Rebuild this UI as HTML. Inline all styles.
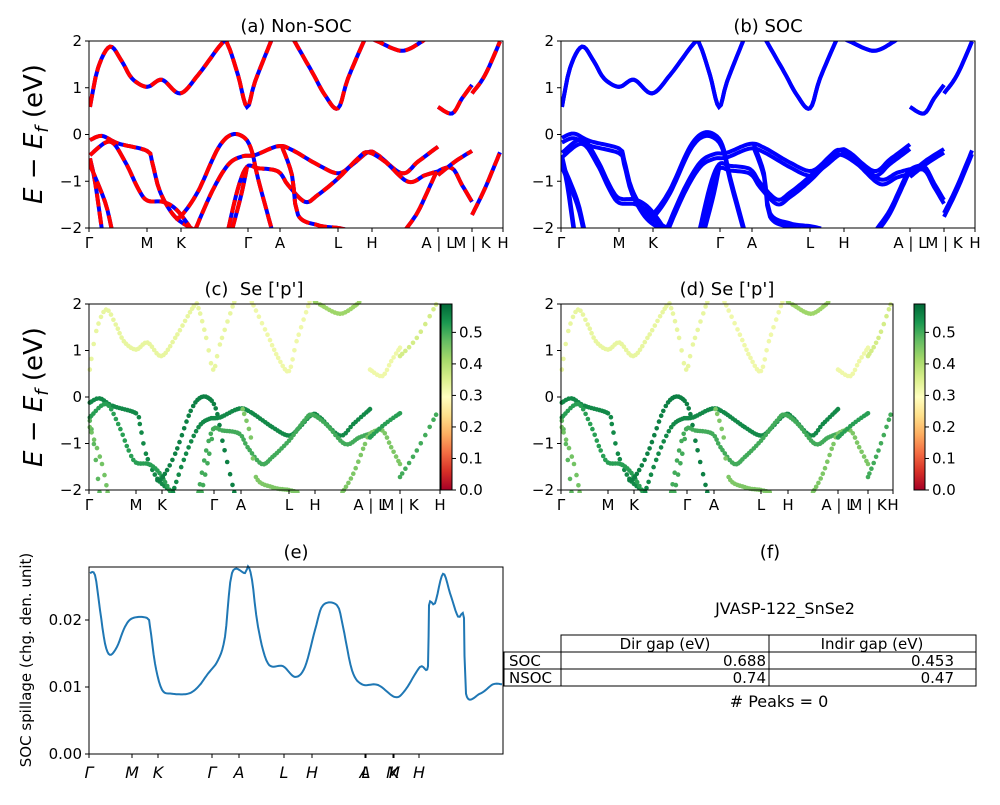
<!DOCTYPE html>
<html><head><meta charset="utf-8"><style>
body{margin:0;background:#fff;font-family:"Liberation Sans","DejaVu Sans",sans-serif}
svg text{font-family:"DejaVu Sans","Liberation Sans",sans-serif}
</style></head><body>
<svg id="fig" width="1000" height="800" viewBox="0 0 1000 800" xmlns="http://www.w3.org/2000/svg">
<defs>
<linearGradient id="rdylgn" x1="0" y1="1" x2="0" y2="0">
<stop offset="0" stop-color="#a50026"/><stop offset="0.1" stop-color="#d73027"/><stop offset="0.2" stop-color="#f46d43"/><stop offset="0.3" stop-color="#fdae61"/><stop offset="0.4" stop-color="#fee08b"/><stop offset="0.5" stop-color="#ffffbf"/><stop offset="0.6" stop-color="#d9ef8b"/><stop offset="0.7" stop-color="#a6d96a"/><stop offset="0.8" stop-color="#66bd63"/><stop offset="0.9" stop-color="#1a9850"/><stop offset="1" stop-color="#006837"/>
</linearGradient>
<clipPath id="clipA"><rect x="89" y="41" width="414" height="187"/></clipPath>
<clipPath id="clipB"><rect x="561" y="41" width="414" height="187"/></clipPath>
<clipPath id="clipC"><rect x="86" y="301" width="357" height="192"/></clipPath>
<clipPath id="clipD"><rect x="558" y="301" width="338" height="192"/></clipPath>
</defs>
</svg>
<script>
// ---- data ----
const tickK = [0,58,92,159,191,249,283,349,383,414];
const tickLabels = ["Γ","M","K","Γ","A","L","H","A | L","M | K","H"];
const bands = [
 [[1,0.59],[9,1.42],[21,1.88],[33,1.56],[43,1.20],[58,1.02],[73,1.17],[91,0.88],[109,1.27],[133,1.95],[139,1.91],[149,1.27],[158,0.59],[166,1.13],[183,2.05]],
 [[204,2.05],[223,1.34],[236,0.84],[249,0.56],[259,1.20],[276,2.05]],
 [[283,2.05],[289,1.99],[313,1.79],[333,1.99],[336,2.05]],
 [[349,0.59],[363,0.45],[373,0.77],[383,1.06]],
 [[383,0.88],[396,1.27],[411,1.99]],
 [[1,-0.12],[13,-0.03],[29,-0.19],[58,-0.35],[63,-0.58],[71,-1.22],[86,-1.76],[106,-2.05]],
 [[1,-0.44],[21,-0.15],[36,-0.58],[49,-1.15],[58,-1.41],[74,-1.44],[86,-1.58],[96,-1.83],[103,-2.05]],
 [[86,-1.79],[93,-1.72],[109,-1.22],[129,-0.30],[143,0.00],[156,-0.08],[163,-0.37],[169,-0.94],[183,-2.05]],
 [[106,-2.05],[123,-1.22],[139,-0.65],[153,-0.47],[166,-0.44],[189,-0.25],[203,-0.33],[229,-0.65],[249,-0.83],[263,-0.65],[279,-0.38],[289,-0.44],[313,-0.83],[329,-0.58],[349,-0.26]],
 [[139,-2.05],[149,-1.15],[158,-0.69],[169,-0.72],[189,-0.79],[199,-1.08],[216,-1.44],[229,-1.29],[249,-0.94],[269,-0.51],[279,-0.38],[296,-0.58],[319,-1.01],[336,-0.87],[349,-0.79]],
 [[193,-0.26],[203,-0.87],[209,-1.72],[229,-1.94],[249,-2.0],[260,-2.05]],
 [[1,-0.51],[6,-1.01],[13,-2.05]],
 [[1,-0.65],[16,-1.44],[23,-2.05]],
 [[143,-2.05],[153,-1.22],[158,-0.69]],
 [[316,-2.05],[329,-1.65],[343,-1.01],[349,-0.79],[363,-0.72],[373,-1.08],[383,-1.44]],
 [[349,-0.87],[366,-0.58],[383,-0.35]],
 [[383,-1.72],[396,-1.15],[411,-0.38]]
];
const bandWeights = [0.33,0.32,0.42,0.32,0.36,0.55,0.52,0.56,0.55,0.50,0.45,0.48,0.46,0.50,0.45,0.52,0.50];
const socSplit = [0,0,0,0,0,0.05,0.05,0.04,0.05,0.05,0.04,0.05,0.05,0.04,0.04,0.04,0.04];
const energyTicks = [2,1,0,-1,-2];
const cbarTicks = [0.0,0.1,0.2,0.3,0.4,0.5];
const spillK = [1,6,11,16,21,28,36,44,58,61,66,73,83,99,109,119,129,136,143,156,159,163,169,179,194,206,216,226,234,248,254,263,273,289,306,316,331,339,340,346,354,361,369,375,377,391,404,413];
const spillV = [0.0270,0.0267,0.0215,0.0165,0.0148,0.0160,0.0190,0.0203,0.0203,0.0190,0.0135,0.0096,0.0090,0.0090,0.0100,0.0120,0.0140,0.0175,0.0270,0.0270,0.0280,0.0260,0.0190,0.0135,0.0131,0.0115,0.0130,0.0185,0.0222,0.0222,0.0190,0.0125,0.0104,0.0103,0.0085,0.0095,0.0130,0.0131,0.0222,0.0225,0.0269,0.0240,0.0205,0.0203,0.0090,0.0090,0.0104,0.0104];
const spillTicksPx = [89,132,158,212,239,284,312,365,366,393,394,419];
const spillTickLabels = ["Γ","M","K","Γ","A","L","H","A","L","M","K","H"];
const spillYTicks = [0.00,0.01,0.02];
const tableRows = [["SOC","0.688","0.453"],["NSOC","0.74","0.47"]];

// ---- helpers ----
const svg = document.getElementById('fig');
const NS = 'http://www.w3.org/2000/svg';
function mk(tag, attrs, parent){const e=document.createElementNS(NS,tag);for(const k in attrs)e.setAttribute(k,attrs[k]);(parent||svg).appendChild(e);return e;}
function txt(x,y,s,size,anchor,parent,extra){const t=mk('text',Object.assign({x:x,y:y,'font-size':size,'text-anchor':anchor||'middle',fill:'#000'},extra||{}),parent);t.textContent=s;return t;}
function kMap(ticksPx){return function(k){for(let i=0;i<tickK.length-1;i++){if(k<=tickK[i+1]||i===tickK.length-2){return ticksPx[i]+(k-tickK[i])/(tickK[i+1]-tickK[i])*(ticksPx[i+1]-ticksPx[i]);}}};}
function eMap(top,bot){return function(E){return top+(2-E)/4*(bot-top);};}
function sampleBand(b,step){const pts=[];for(let i=0;i<b.length-1;i++){const p0=b[Math.max(0,i-1)],p1=b[i],p2=b[i+1],p3=b[Math.min(b.length-1,i+2)];const n=Math.max(2,Math.ceil((p2[0]-p1[0])/step));for(let j=0;j<n;j++){const t=j/n,t2=t*t,t3=t2*t;const f=(a,b2,c,d)=>0.5*((2*b2)+(-a+c)*t+(2*a-5*b2+4*c-d)*t2+(-a+3*b2-3*c+d)*t3);pts.push([f(p0[0],p1[0],p2[0],p3[0]),f(p0[1],p1[1],p2[1],p3[1])]);}}pts.push(b[b.length-1]);return pts;}
const cstops=[[165,0,38],[215,48,39],[244,109,67],[253,174,97],[254,224,139],[255,255,191],[217,239,139],[166,217,106],[102,189,99],[26,152,80],[0,104,55]];
function cmap(v){let t=Math.max(0,Math.min(1,v/0.59))*10;const i=Math.min(9,Math.floor(t)),f=t-i;const a=cstops[i],b=cstops[i+1];return 'rgb('+a.map((c,j)=>Math.round(c+(b[j]-c)*f)).join(',')+')';}

function axesFrame(x0,y0,x1,y1,name){const r=mk('rect',{x:x0,y:y0,width:x1-x0,height:y1-y0,fill:'none',stroke:'#000','stroke-width':1});}
function energyAxis(x0,top,bot,name){const g=mk('g',{});const em=eMap(top,bot);energyTicks.forEach(v=>{const y=em(v);mk('line',{x1:x0-4,x2:x0,y1:y,y2:y,stroke:'#000'},g);txt(x0-7,y+5,String(v).replace('-','−'),15,'end',g);});}
function kAxis(ticksPx,bot,name){const g=mk('g',{});ticksPx.forEach((x,i)=>{mk('line',{x1:x,x2:x,y1:bot,y2:bot+4,stroke:'#000'},g);txt(x,bot+20,tickLabels[i],15,'middle',g);});}

// ---- panel (a) & (b): band lines ----
function linePanel(ticksPx,clip,mode,name){
 const km=kMap(ticksPx),em=eMap(41,228);
 const g=mk('g',{'clip-path':'url(#'+clip+')'});
 
 
 bands.forEach((b,bi)=>{
  const mkd=(off)=>sampleBand(b,2).map((p,i)=>(i?'L':'M')+km(p[0]).toFixed(1)+','+em(p[1]+off).toFixed(1)).join('');
  const d=mkd(0);
  if(mode==='nsoc'){
   const l1=mk('path',{d:d,fill:'none',stroke:'#0000ff','stroke-width':4},g);
   
   const l2=mk('path',{d:d,fill:'none',stroke:'#ff0000','stroke-width':4,'stroke-dasharray':'13,5'},g);
   
  } else {
   const s=socSplit[bi];
   const l=mk('path',{d:mkd(s),fill:'none',stroke:'#0000ff','stroke-width':4},g);
   
   const l2=mk('path',{d:mkd(-s),fill:'none',stroke:'#0000ff','stroke-width':4},g);
   
  }
 });
}
const aTicks=[89,147,181,248,280,338,372,438,472,503];
const bTicks=[561,619,653,720,752,810,844,910,944,975];
const cTicks=[89,136,162,214,241,289,315,370,400,440];
const dTicks=[561,608,634,687,714,761,788,838,868,893];
linePanel(aTicks,'clipA','nsoc','non-soc-bands');
linePanel(bTicks,'clipB','soc','soc-bands');

// ---- panels (c) & (d): projected scatter ----
function scatterPanel(ticksPx,clip,name){
 const km=kMap(ticksPx),em=eMap(304,490);
 const g=mk('g',{'clip-path':'url(#'+clip+')'});
 
 
 bands.forEach((b,bi)=>{const col=cmap(bandWeights[bi]);sampleBand(b,3.2).forEach(p=>{const c=mk('circle',{cx:km(p[0]).toFixed(1),cy:em(p[1]).toFixed(1),r:2.3,fill:col},g);});});
}
scatterPanel(cTicks,'clipC','se-p-projection-nonsoc');
scatterPanel(dTicks,'clipD','se-p-projection-soc');

function colorbar(x,name){const g=mk('g',{});
 mk('rect',{x:x,y:304,width:11,height:186,fill:'url(#rdylgn)',stroke:'#000','stroke-width':1},g);
 cbarTicks.forEach(v=>{const y=490-v/0.59*186;mk('line',{x1:x+11,x2:x+15,y1:y,y2:y,stroke:'#000'},g);txt(x+18,y+5,v.toFixed(1),15,'start',g);});}
colorbar(441,'colorbar-c');colorbar(914,'colorbar-d');

axesFrame(89,41,503,228,'axes-a');axesFrame(561,41,975,228,'axes-b');
axesFrame(89,304,440,490,'axes-c');axesFrame(561,304,893,490,'axes-d');
energyAxis(89,41,228,'y-axis-a');energyAxis(561,41,228,'y-axis-b');
energyAxis(89,304,490,'y-axis-c');energyAxis(561,304,490,'y-axis-d');
kAxis(aTicks,228,'x-axis-a');kAxis(bTicks,228,'x-axis-b');kAxis(cTicks,490,'x-axis-c');kAxis(dTicks,490,'x-axis-d');

// titles
[[296,32,'(a) Non-SOC','title-a'],[768,32,'(b) SOC','title-b'],[254,295,"(c)\u00a0\u00a0Se ['p']",'title-c'],[727,295,"(d) Se ['p']",'title-d'],[296,558,'(e)','title-e'],[770,558,'(f)','title-f']].forEach(t=>{const e=txt(t[0],t[1],t[2],18,'middle');});
// y labels
[[134,'y-axis-title-a'],[397,'y-axis-title-c']].forEach(o=>{const t=mk('text',{x:0,y:0,'font-size':26,'text-anchor':'middle',transform:'translate(42,'+o[0]+') rotate(-90)',fill:'#000'});
 t.innerHTML='<tspan font-style="italic">E</tspan> − <tspan font-style="italic">E</tspan><tspan font-size="18" font-style="italic" dy="6">f</tspan><tspan dy="-6"> (eV)</tspan>';});

// ---- panel (e) spillage ----
(function(){
 const x0=89,y0=567,y1=754;const ys=v=>y1-v/0.01*67;const xs=k=>x0+k;
 const g=mk('g',{});
 const pts=sampleBand(spillK.map((k,i)=>[k,spillV[i]]),1.5);
 const p=mk('path',{d:pts.map((q,i)=>(i?'L':'M')+xs(q[0]).toFixed(1)+','+ys(q[1]).toFixed(1)).join(''),fill:'none',stroke:'#1f77b4','stroke-width':2},g);
 
 const fr=mk('rect',{x:89,y:567,width:414,height:187,fill:'none',stroke:'#000'},g);
 spillYTicks.forEach(v=>{const y=ys(v);mk('line',{x1:85,x2:89,y1:y,y2:y,stroke:'#000'},g);txt(82,y+5,v.toFixed(2),15,'end',g);});
 spillTicksPx.forEach((x,i)=>{mk('line',{x1:x,x2:x,y1:754,y2:758,stroke:'#000'},g);txt(x,778,spillTickLabels[i],16,'middle',g,{'font-style':'italic'});});
 const yl=mk('text',{x:0,y:0,'font-size':15,'text-anchor':'middle',transform:'translate(31,660) rotate(-90)',fill:'#000'},g);yl.textContent='SOC spillage (chg. den. unit)';
 
})();

// ---- panel (f) table ----
(function(){
 const g=mk('g',{});
 const t1=txt(785,614,'JVASP-122_SnSe2',16,'middle',g);
 const ry=[635,652,669,686];
 mk('rect',{x:561,y:635,width:415,height:17,fill:'none',stroke:'#000'},g);
 mk('line',{x1:769,x2:769,y1:635,y2:686,stroke:'#000'},g);
 txt(665,649,'Dir gap (eV)',15,'middle',g);txt(872,649,'Indir gap (eV)',15,'middle',g);
 tableRows.forEach((r,i)=>{const y=ry[i+1];mk('rect',{x:504,y:y,width:472,height:17,fill:'none',stroke:'#000'},g);mk('line',{x1:561,x2:561,y1:y,y2:y+17,stroke:'#000'},g);
  txt(509,y+14,r[0],15,'start',g);txt(766,y+14,r[1],15,'end',g);txt(954,y+14,r[2],15,'end',g);});
 const t2=txt(779,707,'# Peaks = 0',16,'middle',g);
})();
</script>
</body></html>
